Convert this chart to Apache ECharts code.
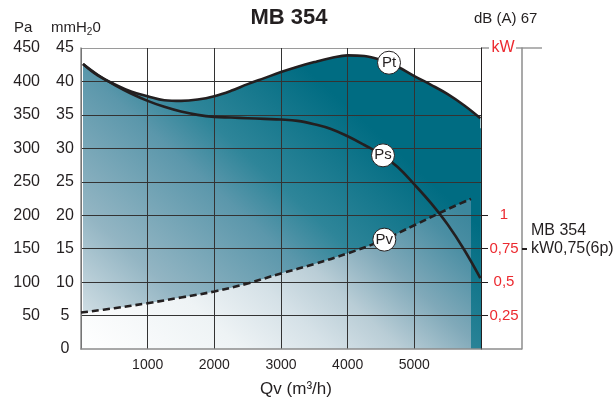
<!DOCTYPE html>
<html>
<head>
<meta charset="utf-8">
<script src="https://cdn.jsdelivr.net/npm/echarts@6/dist/echarts.min.js"></script>
<style>
  html, body { margin: 0; padding: 0; background: #fff; }
  #chart { width: 613px; height: 401px; }
</style>
</head>
<body>
<div id="chart"></div>
<script>
// curve readings, Qv in m3/h and pressure in Pa
var qvFan = [30, 250, 500, 750, 1000, 1250, 1500, 1750, 2000, 2250, 2500, 2750, 3000, 3250, 3500, 3750, 4000, 4250, 4500, 4750, 5000, 5250, 5500, 5750, 5990];
var paPt = [426, 409, 396, 385, 378, 372, 371, 373, 378, 386, 396, 405, 414, 422, 429, 435, 439, 438, 432, 422, 408, 395, 381, 364, 345];
var paPs = [426, 410, 395, 382, 371, 362, 355, 350, 347, 346, 345, 344, 343, 341, 336, 329, 318, 305, 291, 272, 246, 218, 186, 148, 106];

var qvPv = [0, 500, 1000, 1500, 2000, 2500, 3000, 3500, 4000, 4500, 5000, 5500, 5850];
var paPv = [54.5, 61, 68.5, 77, 86, 98, 113, 127, 143, 161.5, 185, 209, 224.5];

// where the curve names sit
var markPt = [4620, 428];
var markPs = [4530, 289.5];
var markPv = [4550, 163.5];

var kwTicks = [0.25, 0.5, 0.75, 1];
var motorKw = [0.75];

function pairs(xs, ys) {
    return xs.map(function(x, i) { return [x, ys[i]]; });
}

var FONT = "'Liberation Sans', Arial, sans-serif";
var INK = '#231f20';
var RED = '#ec2a30';
var GREY = '#8c8c8c';
var SMOOTH = 0.4;

var chart = echarts.init(document.getElementById('chart'));

var splitColors = ['rgba(0,0,0,0)', '#333', '#333', '#333', '#333', '#333', '#333', '#333', '#333', '#9a9a9a'];

function marker(name, coord) {
    return {
        z: 10,
        symbol: 'circle',
        symbolSize: 23,
        itemStyle: { color: '#fff', borderColor: INK, borderWidth: 1 },
        label: { show: true, position: 'inside', formatter: '{b}', color: INK, fontSize: 15, fontFamily: FONT },
        data: [{ name: name, coord: coord }]
    };
}

var option = {
    animation: false,
    textStyle: { fontFamily: FONT },
    grid: { left: 81, right: 132, top: 48, bottom: 52 },
    xAxis: {
        type: 'value', min: 0, max: 6000, interval: 1000, z: 2,
        axisLine: { lineStyle: { color: GREY, width: 1.5 } },
        axisTick: { show: false },
        axisLabel: {
            color: INK, fontSize: 14, margin: 9,
            formatter: function(v) { return (v === 0 || v === 6000) ? '' : v; }
        },
        splitLine: { show: true, lineStyle: { color: '#333', width: 1 } }
    },
    yAxis: [
        { // Pa
            type: 'value', min: 0, max: 450, interval: 50, position: 'left', offset: 33, z: 2,
            axisLine: { show: false }, axisTick: { show: false },
            axisLabel: { color: INK, fontSize: 16, margin: 8,
                formatter: function(v) { return v === 0 ? '' : v; } },
            splitLine: { show: true, lineStyle: { color: splitColors, width: 1 } }
        },
        { // mmH2O
            type: 'value', min: 0, max: 45, interval: 5, position: 'left', offset: 0, z: 2,
            axisLine: { show: true, lineStyle: { color: GREY, width: 1.5 } },
            axisTick: { show: false },
            axisLabel: { color: INK, fontSize: 16, align: 'center', margin: 16 },
            splitLine: { show: false }
        },
        { // kW scale
            type: 'value', min: 0, max: 2.25, interval: 0.25, position: 'right', offset: 41, z: 2,
            axisLine: { show: true, lineStyle: { color: GREY, width: 1.5 } },
            axisTick: { show: true, customValues: motorKw, length: 5, inside: false,
                lineStyle: { color: INK, width: 2 } },
            axisLabel: {
                inside: true, align: 'center', margin: 18, color: RED, fontSize: 15,
                customValues: kwTicks,
                formatter: function(v) { return kwTicks.indexOf(v) < 0 ? '' : String(v).replace('.', ','); }
            },
            splitLine: { show: false }
        },
        { // ticks on the plot edge
            type: 'value', min: 0, max: 2.25, interval: 0.25, position: 'right', offset: 0, z: 2,
            axisLine: { show: true, lineStyle: { color: INK, width: 1 } },
            axisTick: { show: true, customValues: kwTicks, length: 7, lineStyle: { color: INK, width: 1 } },
            axisLabel: { show: false },
            splitLine: { show: false }
        }
    ],
    series: [
        {
            name: 'Pt fill', type: 'line', z: 1, smooth: SMOOTH, symbol: 'none', silent: true,
            data: pairs(qvFan, paPt),
            lineStyle: { width: 0 },
            areaStyle: {
                opacity: 1,
                color: { type: 'linear', x: 81, y: 349, x2: 322, y2: 83, global: true,
                    colorStops: [
                        { offset: 0, color: '#e6eef1' },
                        { offset: 0.1, color: '#c9d9e0' },
                        { offset: 0.29, color: '#93b5c3' },
                        { offset: 0.58, color: '#5b97ab' },
                        { offset: 0.71, color: '#2e8599' },
                        { offset: 1, color: '#006c82' }
                    ] }
            }
        },
        {
            name: 'Pv fill', type: 'line', z: 1.5, smooth: SMOOTH, symbol: 'none', silent: true,
            data: pairs(qvPv, paPv),
            lineStyle: { width: 0 },
            areaStyle: {
                opacity: 1,
                color: { type: 'linear', x: 81, y: 349, x2: 322, y2: 83, global: true,
                    colorStops: [
                        { offset: 0, color: '#ffffff' },
                        { offset: 0.3, color: '#eef3f5' },
                        { offset: 0.47, color: '#d5e1e7' },
                        { offset: 0.6, color: '#b9cdd6' },
                        { offset: 0.75, color: '#80a9b9' },
                        { offset: 0.92, color: '#4a8ea3' },
                        { offset: 1, color: '#3d879d' }
                    ] }
            },
            markArea: {
                silent: true,
                itemStyle: { color: '#197e92' },
                data: [[{ coord: [5860, 0] }, { coord: [6000, 330] }]]
            }
        },
        {
            name: 'Pt', type: 'line', z: 4, smooth: SMOOTH, symbol: 'none',
            data: pairs(qvFan, paPt),
            lineStyle: { color: INK, width: 2.6 },
            markPoint: marker('Pt', markPt)
        },
        {
            name: 'Ps', type: 'line', z: 4, smooth: SMOOTH, symbol: 'none',
            data: pairs(qvFan, paPs),
            lineStyle: { color: INK, width: 2.6 },
            markPoint: marker('Ps', markPs)
        },
        {
            name: 'Pv', type: 'line', z: 4, smooth: SMOOTH, symbol: 'none',
            data: pairs(qvPv, paPv),
            lineStyle: { color: INK, width: 2.6, type: [7, 4] },
            markPoint: marker('Pv', markPv)
        }
    ],
    graphic: [
        { type: 'text', style: { text: 'MB 354', x: 289, y: 18, align: 'center', verticalAlign: 'middle', font: 'bold 22px ' + FONT, fill: INK } },
        { type: 'text', style: { text: 'dB (A) 67', x: 474, y: 19, verticalAlign: 'middle', font: '15px ' + FONT, fill: INK } },
        { type: 'text', style: { text: 'Pa', x: 14, y: 28, verticalAlign: 'middle', font: '15px ' + FONT, fill: INK } },
        { type: 'text', style: { text: 'mmH{s|2}0', x: 51, y: 28, verticalAlign: 'middle', font: '15px ' + FONT, fill: INK,
            rich: { s: { fontSize: 10, fontFamily: FONT, fill: INK, padding: [9, 0, 0, 0] } } } },
        { type: 'text', style: { text: 'kW', x: 503, y: 48, align: 'center', verticalAlign: 'middle', font: '16px ' + FONT, fill: RED } },
        { type: 'text', style: { text: 'MB 354', x: 531, y: 231, verticalAlign: 'middle', font: '16px ' + FONT, fill: INK } },
        { type: 'text', style: { text: 'kW0,75(6p)', x: 531, y: 249, verticalAlign: 'middle', font: '16px ' + FONT, fill: INK } },
        { type: 'text', style: { text: 'Qv (m³/h)', x: 296, y: 389, align: 'center', verticalAlign: 'middle', font: '17px ' + FONT, fill: INK } },
        { type: 'line', shape: { x1: 481, y1: 48, x2: 489, y2: 48 }, style: { stroke: '#9a9a9a', lineWidth: 1.5 } },
        { type: 'line', shape: { x1: 516, y1: 48, x2: 542, y2: 48 }, style: { stroke: '#9a9a9a', lineWidth: 1.5 } },
        { type: 'line', shape: { x1: 481, y1: 349, x2: 522, y2: 349 }, style: { stroke: GREY, lineWidth: 1.5 } }
    ]
};

chart.setOption(option);
</script>
</body>
</html>
